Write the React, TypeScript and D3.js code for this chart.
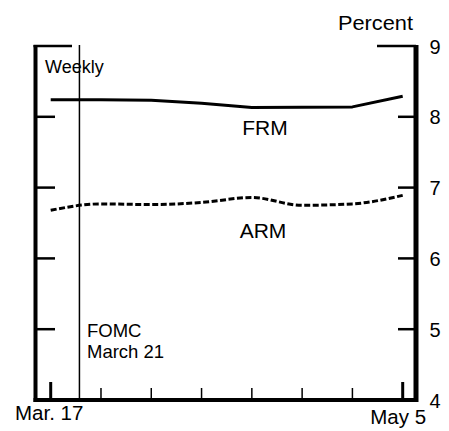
import React from "react";
import * as d3 from "d3";

const dates = ["2000-03-17", "2000-03-24", "2000-03-31", "2000-04-07", "2000-04-14", "2000-04-21", "2000-04-28", "2000-05-05"];
const frm = [8.24, 8.24, 8.235, 8.19, 8.13, 8.135, 8.14, 8.29];
const arm = [6.68, 6.77, 6.76, 6.79, 6.86, 6.75, 6.77, 6.89];
const yTicks = [4, 5, 6, 7, 8, 9];
const xLabels = [
  { date: "2000-03-17", text: "Mar. 17" },
  { date: "2000-05-05", text: "May 5" },
];
const fomcDate = "2000-03-21";

const parse = d3.timeParse("%Y-%m-%d");
const FONT = "'Liberation Sans', Arial, Helvetica, sans-serif";

export default function App() {
  const x = d3
    .scaleTime()
    .domain([parse(dates[0])!, parse(dates[dates.length - 1])!])
    .range([50.7, 402.7]);
  const y = d3.scaleLinear().domain([4, 9]).range([400, 46]);

  const left = 35.5;
  const right = 416;

  const frmLine = d3
    .line<number>()
    .x((_, i) => x(parse(dates[i])!))
    .y((d) => y(d));
  const armLine = d3
    .line<number>()
    .x((_, i) => x(parse(dates[i])!))
    .y((d) => y(d))
    .curve(d3.curveMonotoneX);

  const weekTicks = dates.map((d) => parse(d)!);
  const fx = x(parse(fomcDate)!);

  return (
    <svg
      width={449}
      height={431}
      style={{ position: "absolute", left: 0, top: 0, background: "#fff" }}
      fontFamily={FONT}
    >
      <rect width={449} height={431} fill="#fff" />
      {/* FOMC line */}
      <line x1={fx} x2={fx} y1={y(9) - 1} y2={y(4)} stroke="#000" strokeWidth={1.5} />
      {/* axes frame */}
      <line x1={left} x2={left} y1={y(9) - 1} y2={y(4) + 2} stroke="#000" strokeWidth={4} />
      <line x1={right} x2={right} y1={y(9) - 1} y2={y(4) + 2} stroke="#000" strokeWidth={5} />
      <line x1={left - 2} x2={right + 2} y1={y(4)} y2={y(4)} stroke="#000" strokeWidth={4} />
      {/* top caps */}
      <line x1={left - 2} x2={72} y1={y(9)} y2={y(9)} stroke="#000" strokeWidth={2.5} />
      <line x1={377} x2={right} y1={y(9)} y2={y(9)} stroke="#000" strokeWidth={2.5} />
      {/* y ticks */}
      {yTicks
        .filter((t) => t > 4 && t < 9)
        .map((t) => (
          <g key={t}>
            <line x1={left} x2={55} y1={y(t)} y2={y(t)} stroke="#000" strokeWidth={2.5} />
            <line x1={398} x2={right} y1={y(t)} y2={y(t)} stroke="#000" strokeWidth={2.5} />
          </g>
        ))}
      {yTicks.map((t) => (
        <text key={"l" + t} x={435} y={y(t) + 7.5} fontSize={20} textAnchor="middle" fill="#000">
          {t}
        </text>
      ))}
      {/* x ticks */}
      {weekTicks.map((d, i) => {
        const end = i === 0 || i === weekTicks.length - 1;
        return (
          <line
            key={i}
            x1={x(d)}
            x2={x(d)}
            y1={y(4)}
            y2={y(4) - (end ? 18 : 12)}
            stroke="#000"
            strokeWidth={end ? 3 : 1.5}
          />
        );
      })}
      {xLabels.map((l, i) => (
        <text
          key={l.text}
          x={x(parse(l.date)!) - (i === 0 ? 1.5 : 4.5)}
          y={i === 0 ? 420 : 424}
          fontSize={20.5}
          textAnchor="middle"
          fill="#000"
        >
          {l.text}
        </text>
      ))}
      {/* series */}
      <path d={frmLine(frm)!} fill="none" stroke="#000" strokeWidth={3} strokeLinejoin="round" />
      <path d={armLine(arm)!} fill="none" stroke="#000" strokeWidth={3} strokeDasharray="6,2.5" />
      {/* labels */}
      <text x={338} y={30} fontSize={20} textLength={75} lengthAdjust="spacingAndGlyphs" fill="#000">
        Percent
      </text>
      <text x={45} y={73} fontSize={18} fill="#000">
        Weekly
      </text>
      <text x={265} y={135} fontSize={21} textAnchor="middle" fill="#000">
        FRM
      </text>
      <text x={263} y={238} fontSize={21} textAnchor="middle" fill="#000">
        ARM
      </text>
      <text x={87} y={337} fontSize={18.5} fill="#000">
        FOMC
      </text>
      <text x={87} y={358} fontSize={18.5} fill="#000">
        March 21
      </text>
    </svg>
  );
}
